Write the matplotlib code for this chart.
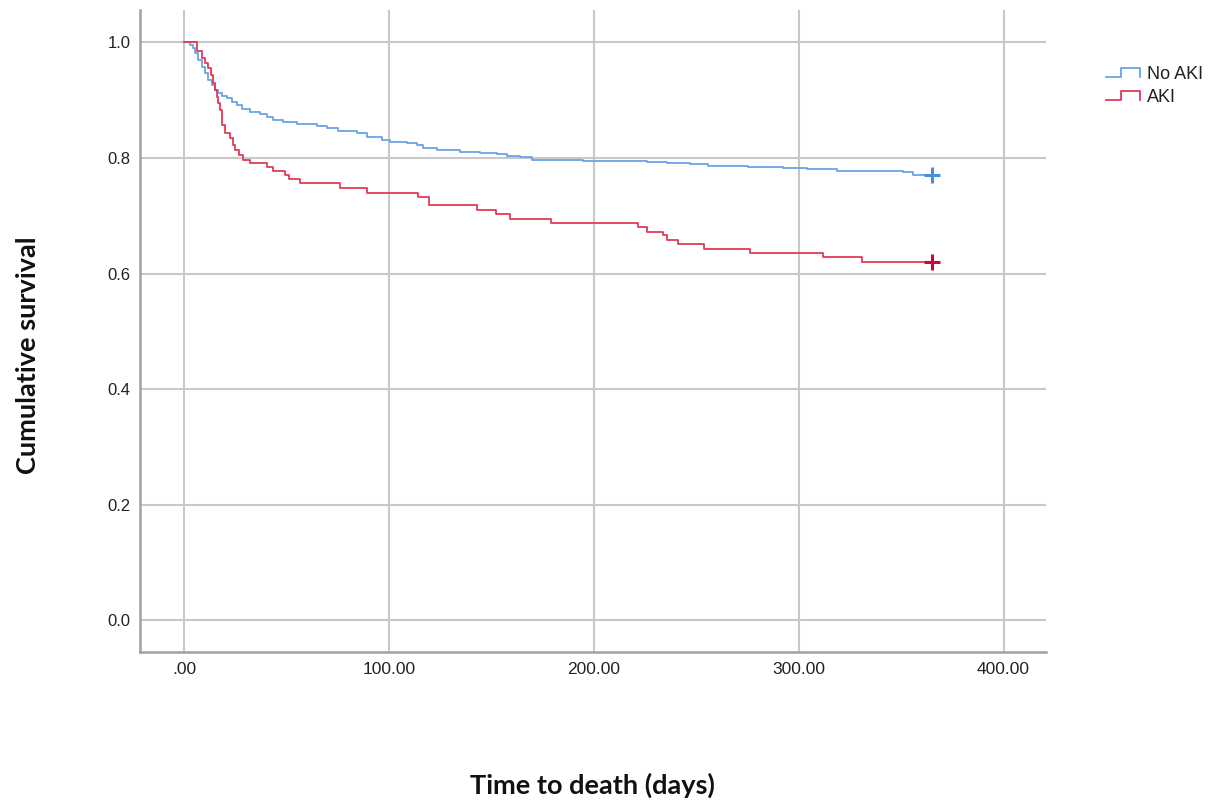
import numpy as np
import matplotlib
matplotlib.use("Agg")
import matplotlib.pyplot as plt
from matplotlib.lines import Line2D
from matplotlib.legend_handler import HandlerBase

# ---- Data ----
groups = ["No AKI", "AKI"]

noaki_time = [0, 2.9, 4.4, 5.5, 6.8, 8.8, 10.2, 11.7, 13.7, 15.1, 16.6, 18.5, 21.0,
              23.4, 25.9, 28.3, 32.2, 37.1, 40.5, 43.4, 48.3, 55.1, 64.9, 69.8,
              75.2, 84.4, 89.3, 96.6, 100.5, 108.8, 113.7, 116.6, 123.5, 134.7,
              144.5, 152.8, 157.6, 164.0, 169.8, 183.5, 194.7, 226.0, 235.7,
              247.0, 255.7, 275.3, 292.3, 304.0, 318.7, 350.9, 355.8]
noaki_surv = [1.0, 0.996, 0.990, 0.982, 0.970, 0.958, 0.947, 0.935, 0.926, 0.918,
              0.912, 0.908, 0.904, 0.897, 0.892, 0.884, 0.880, 0.876, 0.870, 0.866,
              0.862, 0.858, 0.855, 0.852, 0.846, 0.843, 0.836, 0.831, 0.828, 0.826,
              0.822, 0.817, 0.814, 0.811, 0.809, 0.806, 0.804, 0.802, 0.797, 0.796,
              0.795, 0.793, 0.791, 0.789, 0.786, 0.785, 0.783, 0.780, 0.778, 0.775,
              0.771]

aki_time = [0, 6.5, 8.8, 10.2, 11.7, 13.2, 14.2, 15.1, 16.1, 16.6, 17.6, 18.5,
            20.0, 22.4, 23.9, 24.9, 26.8, 28.8, 32.2, 40.5, 43.4, 49.3, 51.2,
            56.6, 76.1, 89.3, 114.2, 119.6, 143.0, 152.3, 159.1, 179.1, 221.6,
            226.0, 233.8, 235.7, 241.1, 253.8, 276.2, 311.9, 330.9]
aki_surv = [1.0, 0.985, 0.973, 0.964, 0.956, 0.944, 0.930, 0.918, 0.906, 0.895,
            0.883, 0.857, 0.843, 0.835, 0.823, 0.814, 0.805, 0.797, 0.791, 0.784,
            0.777, 0.771, 0.764, 0.757, 0.748, 0.740, 0.733, 0.719, 0.710, 0.703,
            0.695, 0.688, 0.681, 0.672, 0.667, 0.658, 0.651, 0.643, 0.635, 0.628,
            0.620]

end_time = 365.0

x_ticks = [0, 100, 200, 300, 400]
x_tick_labels = [".00", "100.00", "200.00", "300.00", "400.00"]
y_ticks = [0.0, 0.2, 0.4, 0.6, 0.8, 1.0]
y_tick_labels = ["0.0", "0.2", "0.4", "0.6", "0.8", "1.0"]

line_colors = ["#6aa3e8", "#e23a57"]
censor_colors = ["#4a8fde", "#d9003a"]


class StepHandler(HandlerBase):
    def create_artists(self, legend, orig_handle, xdescent, ydescent, width,
                       height, fontsize, trans):
        xs = np.array([0, 0.45, 0.45, 1, 1]) * width - xdescent
        ys = np.array([0.15, 0.15, 0.85, 0.85, 0.15]) * height - ydescent
        ln = Line2D(xs, ys, color=orig_handle.get_color(),
                    lw=orig_handle.get_linewidth())
        ln.set_transform(trans)
        return [ln]


fig = plt.figure(figsize=(12.24, 8.01), dpi=100)
ax = fig.add_axes([140 / 1224, 1 - 652 / 801, (1046 - 140) / 1224, (652 - 10) / 801])

handles = []
for t, s, lc, cc, name in [(noaki_time, noaki_surv, line_colors[0], censor_colors[0], groups[0]),
                           (aki_time, aki_surv, line_colors[1], censor_colors[1], groups[1])]:
    tt = list(t) + [end_time]
    ss = list(s) + [s[-1]]
    h, = ax.step(tt, ss, where="post", color=lc, lw=1.3, label=name, zorder=3)
    ax.plot([end_time], [s[-1]], marker="+", color=cc, ms=11, mew=2.2,
            linestyle="none", zorder=4)
    handles.append(h)

ax.set_xlim(-21.5, 420.7)
ax.set_ylim(-0.055, 1.056)
ax.set_xticks(x_ticks)
ax.set_xticklabels(x_tick_labels)
ax.set_yticks(y_ticks)
ax.set_yticklabels(y_tick_labels)
ax.grid(True, color="#c8c8c8", lw=1.5, zorder=0)
ax.set_axisbelow(True)
for sp in ["top", "right"]:
    ax.spines[sp].set_visible(False)
for sp in ["left", "bottom"]:
    ax.spines[sp].set_color("#a0a0a0")
    ax.spines[sp].set_linewidth(1.8)
ax.tick_params(length=0, labelcolor="#222222")
ax.tick_params(axis="y", pad=7, labelsize=12)
ax.tick_params(axis="x", pad=7, labelsize=12.5)
for lab in ax.get_xticklabels() + ax.get_yticklabels():
    lab.set_family("Liberation Sans")

fig.text(592 / 1224, 1 - 785 / 801, "Time to death (days)", ha="center", va="center",
         fontsize=19.5, fontweight="bold", family="Lato", color="#111111")
fig.text(28 / 1224, 1 - 355 / 801, "Cumulative survival", ha="center", va="center",
         rotation=90, fontsize=19.5, fontweight="bold", family="Lato", color="#111111")

leg = fig.legend(handles=handles, labels=groups, loc="upper left",
                 bbox_to_anchor=(1106 / 1224, 1 - 66 / 801), frameon=False,
                 handler_map={Line2D: StepHandler()}, handlelength=1.9,
                 handletextpad=0.37, labelspacing=0.33, borderpad=0,
                 borderaxespad=0, prop={"family": "Liberation Sans", "size": 13})
for txt in leg.get_texts():
    txt.set_color("#222222")

fig.savefig("out.png", dpi=100)
